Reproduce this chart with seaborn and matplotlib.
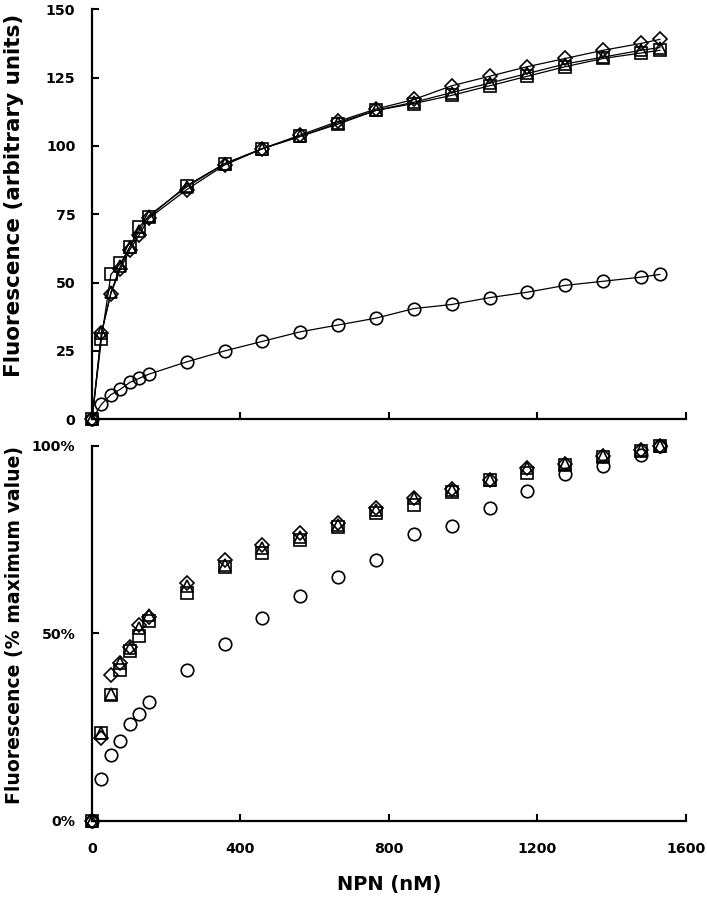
import matplotlib
matplotlib.use('Agg')
import matplotlib.pyplot as plt
import seaborn as sns
from matplotlib.ticker import FuncFormatter

# NPN concentrations (nM)
npn = [0, 25.5, 51, 76.5, 102, 127.5, 153, 255, 357, 459, 561, 663,
       765, 867, 969, 1071, 1173, 1275, 1377, 1479, 1530]

# top panel: raw fluorescence (arbitrary units)
diamond_raw = [0, 31.5, 46, 55, 62, 67.5, 73.5, 84, 93, 99, 104, 109,
               113.5, 117, 122, 125.5, 129, 132, 135, 137.5, 139]
triangle_raw = [0, 31.5, 46.5, 56, 63, 69, 74.5, 85, 93.5, 99, 103.5, 108.5,
                113, 116, 119.5, 123, 126.5, 130, 132.5, 135, 136]
square_raw = [0, 29.5, 53, 57, 63, 70.5, 74, 85.5, 93.5, 99, 103.5, 108,
              113, 115.5, 118.5, 122, 125.5, 129, 132, 134, 135]
circle_raw = [0, 5.5, 9, 11, 13.5, 15, 16.5, 21, 25, 28.5, 32, 34.5,
              37, 40.5, 42, 44.5, 46.5, 49, 50.5, 52, 53]

# bottom panel: % of maximum value
diamond_pct = [0, 22, 39, 42, 46.5, 52.3, 54.5, 63.4, 69.6, 73.6, 76.7, 79.5,
               83.5, 86, 88.5, 91, 94, 95.3, 97.3, 98.8, 100]
triangle_pct = [0, 23.4, 33.8, 42, 46, 51.5, 55, 62.7, 68.3, 72.7, 75.8, 79,
                83, 86, 88.3, 90.8, 94, 95.3, 97.3, 98.8, 100]
square_pct = [0, 23.4, 33.6, 40.3, 45.4, 49.2, 53.2, 60.7, 67.8, 71.4, 74.9, 78.5,
              82, 84.3, 87.8, 90.8, 92.9, 95, 97, 98.7, 100]
circle_pct = [0, 11.2, 17.6, 21.3, 25.9, 28.4, 31.6, 40.3, 47.1, 54.2, 60.1, 65,
              69.5, 76.5, 78.7, 83.4, 88.1, 92.4, 94.7, 97.6, 100]

sns.set_style('ticks')
plt.rcParams['font.family'] = ['DejaVu Sans']
plt.rcParams['font.weight'] = 'bold'
for k in ('text.color', 'axes.labelcolor', 'xtick.color', 'ytick.color', 'axes.edgecolor'):
    plt.rcParams[k] = 'black'

fig = plt.figure(figsize=(7.07, 8.99), dpi=100)
ax1 = fig.add_axes([0.1301, 0.5336, 0.8402, 0.4561])
ax2 = fig.add_axes([0.1301, 0.0868, 0.8402, 0.4171])

raw = [(diamond_raw, 'D'), (triangle_raw, '^'), (square_raw, 's'), (circle_raw, 'o')]
pct = [(diamond_pct, 'D'), (triangle_pct, '^'), (square_pct, 's'), (circle_pct, 'o')]
msize = {'D': 7.5, '^': 9, 's': 9, 'o': 9}

for vals, m in raw:
    sns.lineplot(x=npn, y=vals, ax=ax1, color='black', linewidth=0.9,
                 marker=m, markersize=msize[m], markerfacecolor='none',
                 markeredgecolor='black', markeredgewidth=1.2, clip_on=False)

for vals, m in pct:
    sns.lineplot(x=npn, y=vals, ax=ax2, color='black', linestyle='',
                 marker=m, markersize=msize[m], markerfacecolor='none',
                 markeredgecolor='black', markeredgewidth=1.2, clip_on=False)

for ax in (ax1, ax2):
    ax.set_xlim(0, 1600)
    ax.set_xticks([0, 400, 800, 1200, 1600])
    sns.despine(ax=ax)
    for s in ('left', 'bottom'):
        ax.spines[s].set_linewidth(1.6)
    ax.tick_params(direction='in', length=5, width=1.5, labelsize=10.2, pad=12)

ax1.set_ylim(0, 150)
ax1.set_yticks([0, 25, 50, 75, 100, 125, 150])
ax1.tick_params(axis='x', labelbottom=False)
ax1.set_ylabel('Fluorescence (arbitrary units)', fontsize=15.5, fontweight='bold')
ax1.yaxis.set_label_coords(-0.115, 0.547)

ax2.set_ylim(0, 100)
ax2.set_yticks([0, 50, 100])
ax2.yaxis.set_major_formatter(FuncFormatter(lambda v, p: f'{v:.0f}%'))
ax2.tick_params(axis='x', pad=15)
ax2.set_ylabel('Fluorescence (% maximum value)', fontsize=13.6, fontweight='bold')
ax2.yaxis.set_label_coords(-0.115, 0.523)
ax2.set_xlabel('NPN (nM)', fontsize=14, fontweight='bold')
ax2.xaxis.set_label_coords(0.5, -0.145)

fig.savefig('out.png', dpi=100)
